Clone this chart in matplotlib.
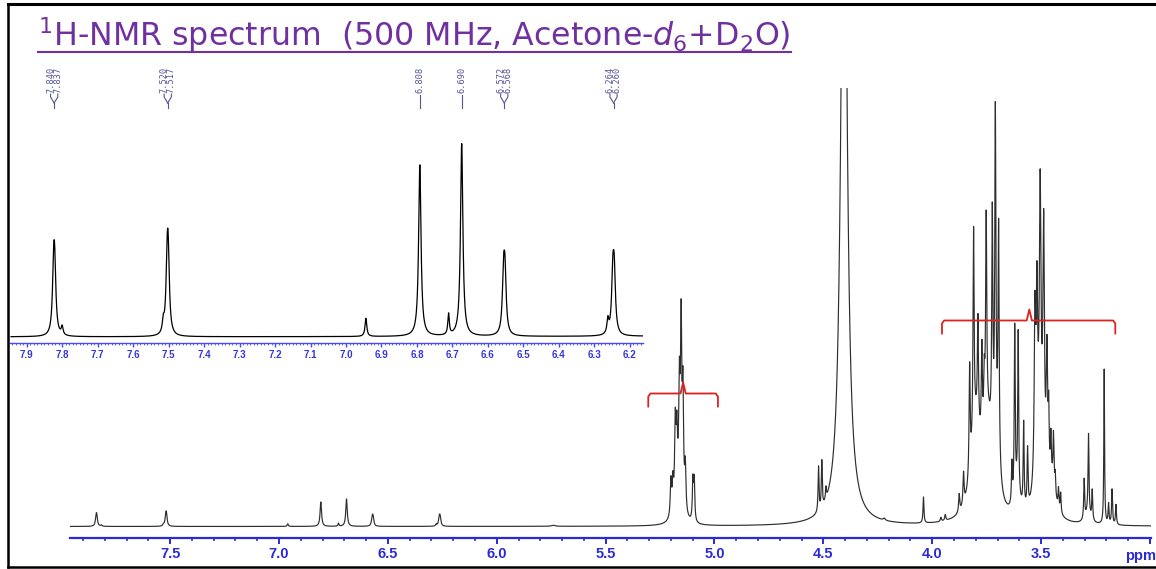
import numpy as np
import matplotlib
matplotlib.use("Agg")
import matplotlib.pyplot as plt
import matplotlib.ticker as tck
import matplotlib.transforms as mtransforms
from matplotlib.lines import Line2D

# peak list: position (ppm), height (main-plot units), line width (ppm)
peak_ppm = [7.840, 7.837, 7.816, 7.531, 7.520, 7.517, 6.960, 6.808, 6.727, 6.690,
            6.572, 6.568, 6.278, 6.264, 6.260, 5.740,
            5.200, 5.191, 5.180, 5.173, 5.161, 5.153, 5.145, 5.134, 5.099, 5.093, 5.165,
            4.522, 4.507, 4.488, 4.405, 4.220,
            4.040, 3.960, 3.940,
            3.876, 3.856, 3.828, 3.810, 3.790, 3.772, 3.761, 3.752, 3.724, 3.710, 3.695,
            3.800, 3.745, 3.705,
            3.634, 3.621, 3.605, 3.580, 3.562, 3.610,
            3.528, 3.519, 3.504, 3.488, 3.473, 3.465, 3.455, 3.443, 3.435, 3.420, 3.410,
            3.505, 3.450,
            3.302, 3.282, 3.265, 3.285, 3.210, 3.190, 3.174, 3.156]
peak_height = [7.9, 7.9, 1.2, 1.6, 8.8, 8.8, 2.6, 24.5, 3.0, 27.5,
               7.7, 7.7, 2.0, 7.7, 7.7, 1.0,
               36, 30, 80, 60, 100, 170, 110, 45, 40, 40, 30,
               45, 47, 12, 760, 2,
               26, 4, 6,
               18, 32, 110, 206, 106, 92, 50, 200, 225, 322, 233,
               85, 85, 50,
               40, 170, 158, 85, 58, 25,
               160, 158, 230, 235, 128, 60, 40, 50, 20, 20, 20,
               90, 30,
               40, 80, 30, 10, 155, 20, 35, 20]
peak_width = [0.008, 0.008, 0.006, 0.006, 0.008, 0.008, 0.006, 0.008, 0.005, 0.008,
              0.008, 0.008, 0.006, 0.008, 0.008, 0.02,
              0.007, 0.007, 0.007, 0.007, 0.007, 0.007, 0.007, 0.007, 0.006, 0.006, 0.03,
              0.005, 0.005, 0.005, 0.032, 0.01,
              0.005, 0.006, 0.006,
              0.006, 0.006, 0.006, 0.006, 0.006, 0.006, 0.006, 0.006, 0.006, 0.006, 0.006,
              0.05, 0.05, 0.03,
              0.005, 0.005, 0.005, 0.005, 0.005, 0.03,
              0.008, 0.008, 0.008, 0.008, 0.008, 0.005, 0.005, 0.005, 0.005, 0.005, 0.005,
              0.035, 0.04,
              0.005, 0.005, 0.005, 0.03, 0.004, 0.005, 0.005, 0.005]

# peak-pick labels shown above the inset
label_groups = [[7.840, 7.837], [7.520, 7.517], [6.808], [6.690], [6.572, 6.568], [6.264, 6.260]]

# integration brackets: left, right, centre (ppm), level
bracket_ppm = [(5.304, 4.984, 5.144), (3.955, 3.159, 3.554)]
bracket_level = [133, 206]

inset_shift = 0.016      # inset scale is referenced slightly differently
inset_gain = 7.0

title = r'$^{1}$H-NMR spectrum  (500 MHz, Acetone-$d_{6}$+D$_{2}$O)'

blue = '#2a2ad8'
W, H = 1156, 569

ppm = np.linspace(7.96, 2.99, 30000)
spec = np.zeros_like(ppm)
for p, h, w in zip(peak_ppm, peak_height, peak_width):
    spec += h / (1 + ((ppm - p) / (w / 2)) ** 2)

fig = plt.figure(figsize=(W / 100, H / 100), dpi=100)

# ---- main spectrum
ax = fig.add_axes([70 / W, 31 / H, 1081 / W, 450 / H])
ax.plot(ppm, spec, color='#2e2e2e', lw=0.85)
ax.set_xlim(7.96, 2.995)
ax.set_ylim(-11.5, 438.5)
ax.patch.set_alpha(0)
for s in ['top', 'right', 'left']:
    ax.spines[s].set_visible(False)
ax.spines['bottom'].set_color(blue)
ax.spines['bottom'].set_linewidth(1.6)
ax.set_yticks([])
ax.xaxis.set_major_locator(tck.MultipleLocator(0.5))
ax.xaxis.set_minor_locator(tck.MultipleLocator(0.1))
ax.xaxis.set_major_formatter(tck.FuncFormatter(lambda v, p: '' if v < 3.2 else '%.1f' % v))
ax.tick_params(axis='x', which='major', length=4.5, width=1.4, color=blue, pad=2,
               labelcolor=blue, labelsize=10.5)
ax.tick_params(axis='x', which='minor', length=2.5, width=1.2, color=blue)
for lab in ax.get_xticklabels():
    lab.set_fontweight('bold')
    lab.set_family('Liberation Sans')
fig.text(1141 / W, 1 - 556 / H, 'ppm', color=blue, fontsize=10.5, fontweight='bold',
         family='Liberation Sans', ha='center', va='center')

# integration brackets
for (xl, xr, xc), lev in zip(bracket_ppm, bracket_level):
    bx = [xl, xl, xl - 0.01, xc + 0.012, xc, xc - 0.012, xr + 0.01, xr, xr]
    by = [lev - 13, lev - 3, lev, lev, lev + 11, lev, lev, lev - 3, lev - 13]
    ax.plot(bx, by, color='#e02020', lw=1.3, solid_joinstyle='round')

# ---- inset (aromatic region, expanded)
ins = fig.add_axes([10 / W, 226 / H, 633 / W, 283 / H])
ins.patch.set_alpha(0)
ins.plot(ppm - inset_shift, spec, color='black', lw=0.9)
ins.set_xlim(7.947, 6.163)
ins.set_ylim(-6 / inset_gain, 277 / inset_gain)
for s in ['top', 'right', 'left']:
    ins.spines[s].set_visible(False)
ins.spines['bottom'].set_color('#4848ff')
ins.spines['bottom'].set_linewidth(1.0)
ins.set_yticks([])
ins.xaxis.set_major_locator(tck.MultipleLocator(0.1))
ins.xaxis.set_minor_locator(tck.MultipleLocator(0.01))
ins.tick_params(axis='x', which='major', length=3, width=1.0, color='#4848ff', pad=2,
                labelcolor='#3434e0', labelsize=7)
ins.tick_params(axis='x', which='minor', length=1.5, width=0.6, color='#4848ff')
for lab in ins.get_xticklabels():
    lab.set_fontweight('bold')
    lab.set_family('Liberation Sans')

# peak labels (inset x axis runs high -> low, so +offset moves left)
tr = mtransforms.blended_transform_factory(ins.transData, ins.transAxes)
fy = lambda y: (343 - y) / 283
dpx = 3.6 / 354.9
for grp in label_groups:
    xc = np.mean(grp) - inset_shift
    if len(grp) == 1:
        ins.text(xc, fy(93), '%.3f' % grp[0], rotation=90, ha='center', va='bottom',
                 fontsize=6.2, family='DejaVu Sans Mono', color='#55559a', transform=tr)
        ins.plot([xc, xc], [fy(95), fy(108)], color='#55559a', lw=0.8, transform=tr, clip_on=False)
    else:
        for v, off in zip(grp, [dpx, -dpx]):
            ins.text(xc + off, fy(93), '%.3f' % v, rotation=90, ha='center', va='bottom',
                     fontsize=6.2, family='DejaVu Sans Mono', color='#55559a', transform=tr)
            ins.plot([xc + off, xc + off, xc], [fy(94), fy(97), fy(103)], color='#55559a',
                     lw=0.8, transform=tr, clip_on=False)
        ins.plot([xc, xc], [fy(103), fy(108)], color='#55559a', lw=0.8, transform=tr, clip_on=False)

# ---- title with underline
t = fig.text(38 / W, 1 - 46 / H, title, color='#7030a0', fontsize=20, va='baseline')
fig.canvas.draw()
bb = t.get_window_extent()
t.set_fontsize(20 * 752 / bb.width)
fig.canvas.draw()
bb = t.get_window_extent()
fig.add_artist(Line2D([bb.x0 / W, bb.x1 / W], [1 - 52 / H, 1 - 52 / H], color='#7030a0', lw=1.5))

# frame
fig.add_artist(Line2D([8 / W, 8 / W], [1 - 567 / H, 1 - 4 / H], color='black', lw=1.8))
fig.add_artist(Line2D([8 / W, 1], [1 - 4 / H, 1 - 4 / H], color='black', lw=2.2))
fig.add_artist(Line2D([8 / W, 1], [1 - 567 / H, 1 - 567 / H], color='black', lw=1.8))

fig.savefig('out.png', dpi=100)
